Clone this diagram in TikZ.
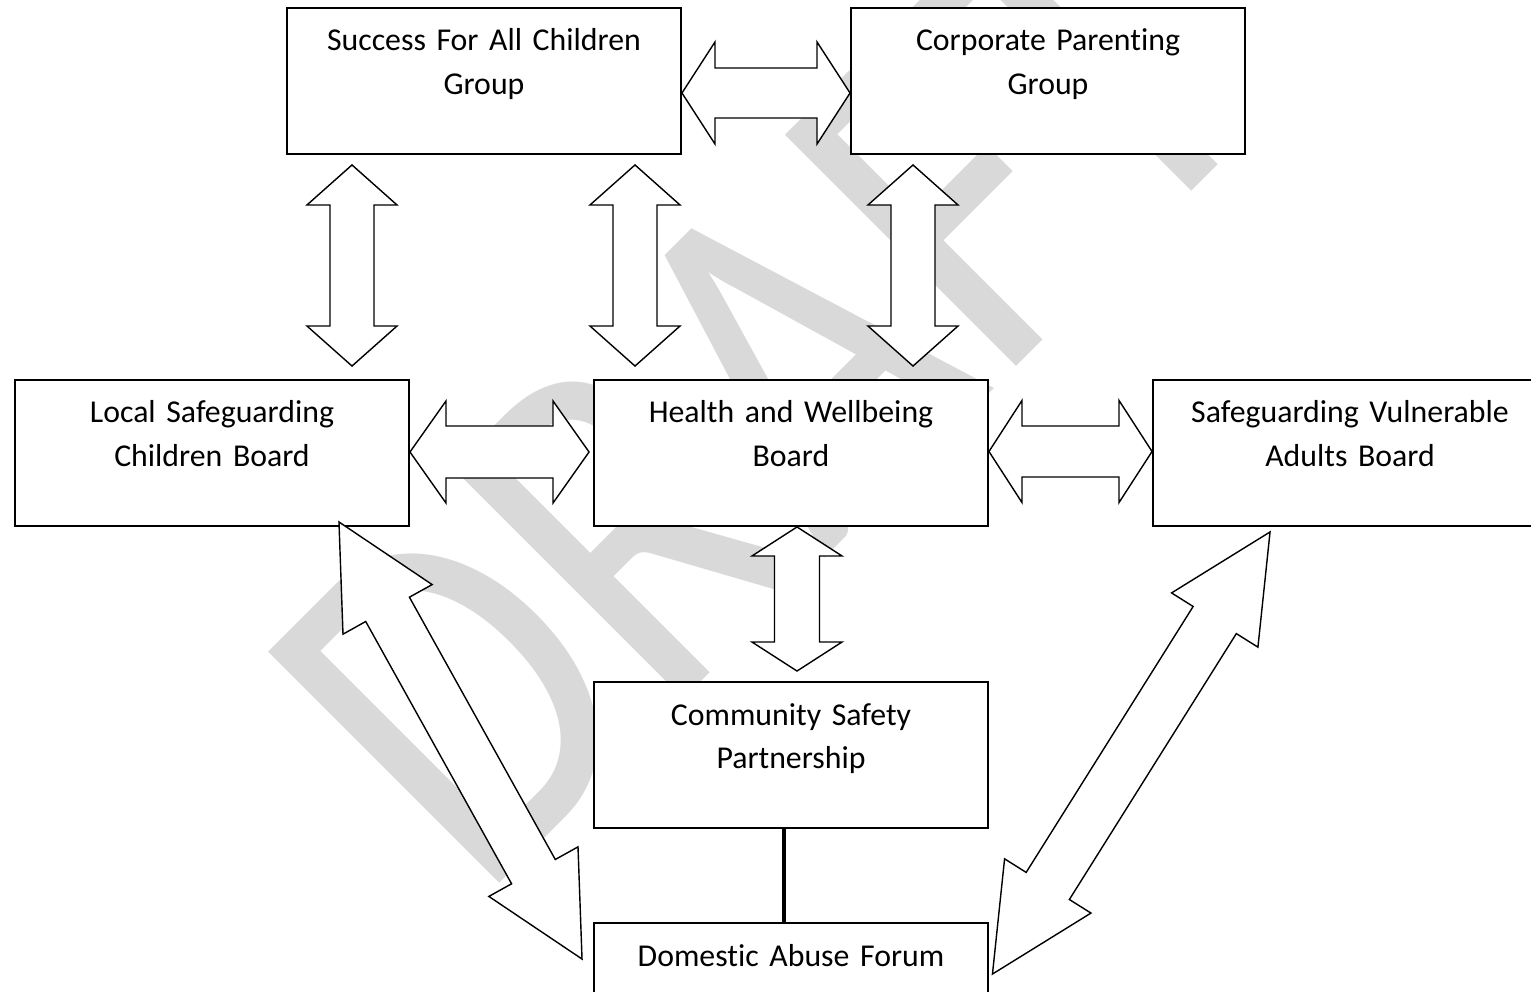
\documentclass[tikz,border=0pt]{standalone}
\usepackage{fontspec}
\setmainfont{Carlito}[Ligatures={NoCommon,NoContextual}]
\usetikzlibrary{calc}

\definecolor{wmgray}{RGB}{217,217,217}

\tikzset{
	board/.style={draw, line width=1.1pt, fill=white, text width=7.5cm, align=center,
		minimum width=7.88cm, inner sep=0pt, text height=0.86cm, text depth=2.06cm,
		font=\fontsize{18.1pt}{25pt}\selectfont},
	blockarrow/.style={draw, line width=0.8pt, fill=white, line join=miter},
	wmark/.style={text=wmgray, inner sep=0pt, font=\fontsize{290pt}{290pt}\selectfont},
	link/.style={line width=2.5pt}
}

% block double arrow: from, to, head length, head half width, shaft half width
\newcommand{\dblarrow}[5]{%
	\draw[blockarrow] (#1) -- ($(#1)!#3!(#2)!#4!90:(#2)$) -- ($(#1)!#3!(#2)!#5!90:(#2)$)
	-- ($(#2)!#3!(#1)!#5!-90:(#1)$) -- ($(#2)!#3!(#1)!#4!-90:(#1)$) -- (#2)
	-- ($(#2)!#3!(#1)!#4!90:(#1)$) -- ($(#2)!#3!(#1)!#5!90:(#1)$)
	-- ($(#1)!#3!(#2)!#5!-90:(#2)$) -- ($(#1)!#3!(#2)!#4!-90:(#2)$) -- cycle;}

\begin{document}
\begin{tikzpicture}[]
	\useasboundingbox (0,0) rectangle (30.62,-19.84);
	\clip (0,0) rectangle (30.62,-19.84);
	%\draw[help lines] (0,-20) grid (31,0);
	\node[wmark, rotate=45, xscale=0.825, anchor=base west] (draft) at (9.59,-18.07) {DRAFT};

	% boards
	\node[board] (sfac) at (9.68,-1.62) {Success For All Children\\Group};
	\node[board] (cpg) at (20.96,-1.62) {Corporate Parenting\\Group};
	\node[board] (lscb) at (4.24,-9.06) {Local Safeguarding\\Children Board};
	\node[board] (hwb) at (15.82,-9.06) {Health and Wellbeing\\Board};
	\node[board] (svab) at (27.0,-9.06) {Safeguarding Vulnerable\\Adults Board};
	\node[board] (csp) at (15.82,-15.10) {Community Safety\\Partnership};
	\node[board] (daf) at (15.82,-19.92) {Domestic Abuse Forum};

	\draw[link] ([xshift=-0.14cm]csp.south) -- ([xshift=-0.14cm]daf.north);

	% arrow ends
	\coordinate (sc1) at ([yshift=-0.24cm]sfac.east);
	\coordinate (sc2) at ([yshift=-0.24cm]cpg.west);
	\coordinate (sl1) at ([xshift=-2.64cm,yshift=-0.2cm]sfac.south);
	\coordinate (sl2) at ([xshift=2.8cm,yshift=0.26cm]lscb.north);
	\coordinate (sh1) at ([xshift=3.02cm,yshift=-0.2cm]sfac.south);
	\coordinate (sh2) at ([xshift=-3.12cm,yshift=0.26cm]hwb.north);
	\coordinate (ch1) at ([xshift=-2.7cm,yshift=-0.2cm]cpg.south);
	\coordinate (ch2) at ([xshift=2.44cm,yshift=0.26cm]hwb.north);
	\coordinate (lh1) at ([yshift=0.02cm]lscb.east);
	\coordinate (lh2) at ([xshift=-0.08cm,yshift=0.02cm]hwb.west);
	\coordinate (hs1) at ([yshift=0.03cm]hwb.east);
	\coordinate (hs2) at ([yshift=0.03cm]svab.west);
	\coordinate (hc1) at ([xshift=0.12cm]hwb.south);
	\coordinate (hc2) at ([xshift=0.12cm,yshift=0.2cm]csp.north);
	\coordinate (ld1) at ([xshift=-1.42cm,yshift=0.1cm]lscb.south east);
	\coordinate (ld2) at ([xshift=-0.22cm,yshift=-0.74cm]daf.north west);
	\coordinate (sd1) at ([xshift=2.36cm,yshift=-0.1cm]svab.south west);
	\coordinate (sd2) at ([xshift=0.07cm,yshift=-1.04cm]daf.north east);

	\dblarrow{sc1}{sc2}{0.66cm}{1.02cm}{0.5cm}
	\dblarrow{sl1}{sl2}{0.8cm}{0.9cm}{0.44cm}
	\dblarrow{sh1}{sh2}{0.8cm}{0.9cm}{0.44cm}
	\dblarrow{ch1}{ch2}{0.8cm}{0.9cm}{0.44cm}
	\dblarrow{lh1}{lh2}{0.72cm}{1.02cm}{0.52cm}
	\dblarrow{hs1}{hs2}{0.66cm}{1.02cm}{0.51cm}
	\dblarrow{hc1}{hc2}{0.58cm}{0.9cm}{0.45cm}
	\dblarrow{ld1}{ld2}{2.0cm}{1.02cm}{0.5cm}
	\dblarrow{sd1}{sd2}{2.08cm}{1.02cm}{0.51cm}
\end{tikzpicture}
\end{document}
